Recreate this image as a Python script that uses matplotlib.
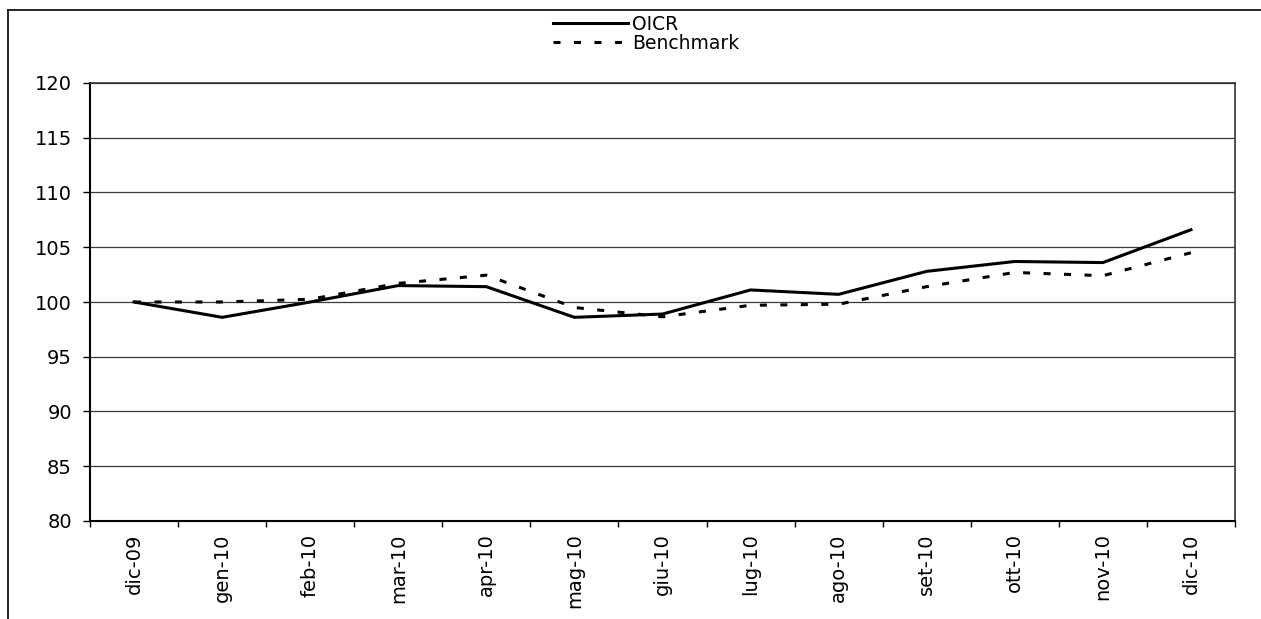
import matplotlib
matplotlib.use("Agg")
import matplotlib.pyplot as plt
from matplotlib.lines import Line2D

plt.rcParams['font.family'] = ['DejaVu Sans']

categories = ["dic-09", "gen-10", "feb-10", "mar-10", "apr-10", "mag-10", "giu-10",
              "lug-10", "ago-10", "set-10", "ott-10", "nov-10", "dic-10"]
oicr = [100.0, 98.6, 100.0, 101.5, 101.4, 98.6, 98.9, 101.1, 100.7, 102.8, 103.7, 103.6, 106.6]
benchmark = [100.0, 100.0, 100.25, 101.7, 102.45, 99.5, 98.65, 99.7, 99.8, 101.4, 102.7, 102.4, 104.5]
yticks = [80, 85, 90, 95, 100, 105, 110, 115, 120]

W, H = 1261, 619
fig = plt.figure(figsize=(W / 100, H / 100), dpi=100)
ax = fig.add_axes([90 / W, 1 - 521 / H, (1235 - 90) / W, (521 - 83) / H])

x = list(range(len(categories)))
l1, = ax.plot(x, oicr, color='black', lw=2.2, solid_joinstyle='miter', label='OICR', zorder=3)
l2, = ax.plot(x, benchmark, color='black', lw=2.2, linestyle=(0, (2.3, 4.4)),
              dash_capstyle='butt', label='Benchmark', zorder=3)

ax.set_xlim(-0.5, len(categories) - 0.5)
ax.set_ylim(80, 120)
ax.set_yticks(yticks)
ax.set_yticklabels([str(v) for v in yticks], fontsize=14)
ax.tick_params(axis='y', direction='out', length=5, width=1, pad=8)
ax.yaxis.grid(True, color='#3a3a3a', lw=0.9)
ax.set_axisbelow(True)

ax.set_xticks(x)
ax.set_xticklabels(categories, rotation=90, fontsize=14)
ax.tick_params(axis='x', which='major', length=0, pad=9)
ax.set_xticks([i - 0.5 for i in range(len(categories) + 1)], minor=True)
ax.tick_params(axis='x', which='minor', direction='out', length=4.5, width=1)

for s in ['left', 'bottom']:
    ax.spines[s].set_linewidth(1.5)
    ax.spines[s].set_color('black')
for s in ['top', 'right']:
    ax.spines[s].set_linewidth(1.2)
    ax.spines[s].set_color('#333333')

ax.legend(handles=[l1, l2], loc='upper left', bbox_to_anchor=(553 / W, 1 - 15 / H),
          bbox_transform=fig.transFigure, frameon=False, fontsize=13.5,
          handlelength=4.0, handletextpad=0.2, labelspacing=0.0,
          borderpad=0, borderaxespad=0)

# outer frame lines
fig.add_artist(Line2D([8 / W, 1.0], [1 - 10 / H, 1 - 10 / H], transform=fig.transFigure,
                      color='black', lw=1.2))
fig.add_artist(Line2D([8 / W, 8 / W], [1 - 10 / H, 0.0], transform=fig.transFigure,
                      color='black', lw=1.2))

fig.savefig("out.png", dpi=100)
